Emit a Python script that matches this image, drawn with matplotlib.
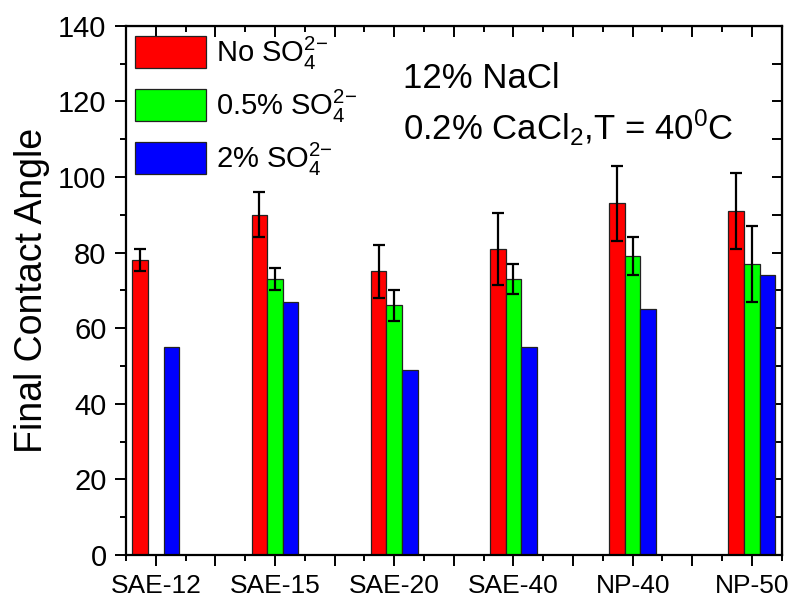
import numpy as np
import matplotlib
matplotlib.use("Agg")
import matplotlib.pyplot as plt
from matplotlib.ticker import MultipleLocator

plt.rcParams["font.family"] = ["Liberation Sans", "DejaVu Sans"]
plt.rcParams["mathtext.fontset"] = "custom"
plt.rcParams["mathtext.rm"] = "Liberation Sans"
plt.rcParams["mathtext.it"] = "Liberation Sans:italic"

# Final contact angle per surfactant, for three sulfate levels
categories = ["SAE-12", "SAE-15", "SAE-20", "SAE-40", "NP-40", "NP-50"]
no_so4 = [78, 90, 75, 81, 93, 91]
no_so4_err = [3, 6, 7, 9.5, 10, 10]
half_so4 = [np.nan, 73, 66, 73, 79, 77]
half_so4_err = [np.nan, 3, 4, 4, 5, 10]
two_so4 = [55, 67, 49, 55, 65, 74]

series_labels = [r"No SO$_4^{2\mathrm{-}}$", r"0.5% SO$_4^{2\mathrm{-}}$", r"2% SO$_4^{2\mathrm{-}}$"]
colors = ["#ff0000", "#00ff00", "#0000ff"]

fig = plt.figure(figsize=(7.94, 5.99), dpi=100)
ax = fig.add_axes([0.1587, 0.0735, 0.8258, 0.8836])

x = np.arange(len(categories))
w = 0.131
bar_kw = dict(width=w, edgecolor="#222222", linewidth=0.9, zorder=2)
err_kw = dict(fmt="none", ecolor="black", elinewidth=1.6, capsize=4.6, capthick=1.6, zorder=3)

ax.bar(x - w, no_so4, color=colors[0], label=series_labels[0], **bar_kw)
ax.bar(x, half_so4, color=colors[1], label=series_labels[1], **bar_kw)
ax.bar(x + w, two_so4, color=colors[2], label=series_labels[2], **bar_kw)
ax.errorbar(x - w, no_so4, yerr=no_so4_err, **err_kw)
ax.errorbar(x, half_so4, yerr=half_so4_err, **err_kw)

ax.set_xlim(-0.25, len(categories) - 0.75)
ax.set_ylim(0, 140)

# bottom axis: labelled ticks at categories, unlabelled ones halfway between
major_x = np.arange(0, len(categories) - 0.99, 0.5)
ax.set_xticks(major_x)
ax.set_xticklabels([categories[int(v)] if v == int(v) else "" for v in major_x])
ax.set_xticks(np.arange(-0.25, len(categories) - 0.74, 0.5), minor=True)
ax.yaxis.set_major_locator(MultipleLocator(20))
ax.yaxis.set_minor_locator(MultipleLocator(10))

ax.tick_params(axis="both", which="major", direction="out", length=8, width=1.4)
ax.tick_params(axis="both", which="minor", direction="out", length=4.5, width=1.4)
ax.tick_params(axis="x", which="major", labelsize=19, pad=6)
ax.tick_params(axis="y", which="major", labelsize=21, pad=6)
for s in ax.spines.values():
    s.set_linewidth(1.6)

top = ax.secondary_xaxis("top")
top.set_xticks(major_x)
top.set_xticks(np.arange(-0.25, len(categories) - 0.74, 0.5), minor=True)
top.tick_params(which="major", direction="in", length=8, width=1.4, labeltop=False)
top.tick_params(which="minor", direction="in", length=4.5, width=1.4)

right = ax.secondary_yaxis("right")
right.yaxis.set_major_locator(MultipleLocator(20))
right.yaxis.set_minor_locator(MultipleLocator(10))
right.tick_params(which="major", direction="in", length=7.5, width=1.4, labelright=False)
right.tick_params(which="minor", direction="in", length=7, width=1.4)

ax.set_ylabel("Final Contact Angle", fontsize=27, labelpad=6)

ax.legend(loc="upper left", frameon=False, fontsize=21, handlelength=2.45,
          handleheight=1.3, labelspacing=0.55, handletextpad=0.33,
          borderaxespad=0.0, borderpad=0.3)

ax.text(0.4225, 0.882, "12% NaCl", transform=ax.transAxes, fontsize=25,
        ha="left", va="baseline")
ax.text(0.4225, 0.784, r"0.2% CaCl$_2$,T = 40$^0$C", transform=ax.transAxes,
        fontsize=25, ha="left", va="baseline")

fig.savefig("out.png", dpi=100)
